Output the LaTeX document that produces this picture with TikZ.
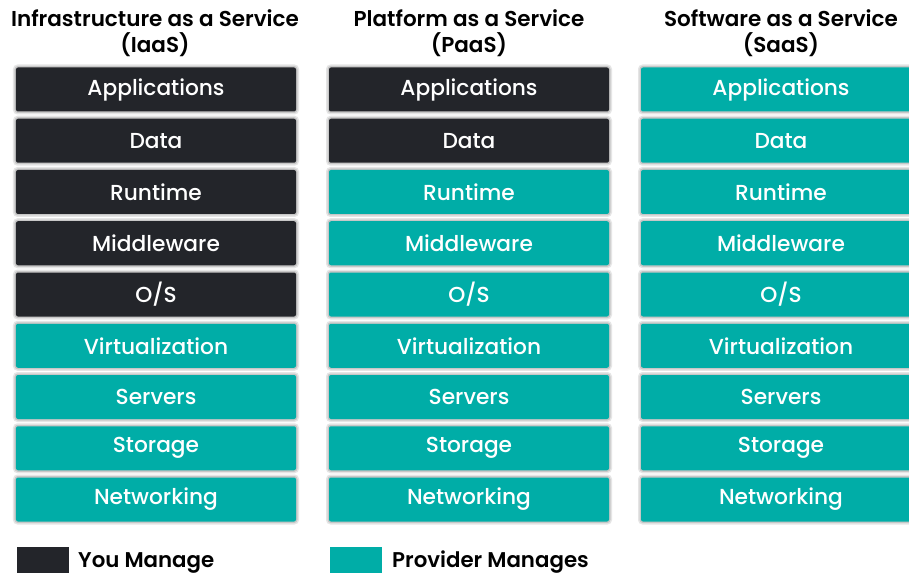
\documentclass[tikz,border=0pt]{standalone}
\usepackage{fontspec}
\setmainfont{Poppins}
\newfontfamily\boxfont{Poppins Medium}
\newfontfamily\headfont{Poppins SemiBold}
\definecolor{youc}{RGB}{35,37,42}
\definecolor{provc}{RGB}{0,173,167}
\tikzset{
  layer/.style={minimum width=280bp, minimum height=44bp, rounded corners=2bp,
    text=white, inner sep=0pt, font=\boxfont\fontsize{21.8}{26}\selectfont,
    preaction={draw=black!10, line width=6bp},
    preaction={draw=black!22, line width=3bp}},
  you/.style={layer, fill=youc},
  prov/.style={layer, fill=provc},
  title/.style={anchor=base, inner sep=0pt, font=\headfont\fontsize{21.6}{26}\selectfont},
  legtext/.style={anchor=base west, inner sep=0pt, font=\headfont\fontsize{21.4}{26}\selectfont},
  legbox/.style={anchor=north west, minimum width=52bp, minimum height=30bp, inner sep=0pt}
}
\begin{document}
\begin{tikzpicture}[x=1bp,y=-1bp]
\clip (0,0) rectangle (909,573);
\fill[white] (0,0) rectangle (909,573);
\node[title] (t1a) at (155,27) {Infrastructure as a Service};
\node[title] (t1b) at (155,53) {(IaaS)};
\node[title] (t2a) at (469,27) {Platform as a Service};
\node[title] (t2b) at (469,53) {(PaaS)};
\node[title] (t3a) at (781,27) {Software as a Service};
\node[title] (t3b) at (781,53) {(SaaS)};
\foreach \lab/\sa/\sb [count=\i from 0] in {
  Applications/you/you, Data/you/you, Runtime/you/prov, Middleware/you/prov,
  {O/S}/you/prov, Virtualization/prov/prov, Servers/prov/prov,
  Storage/prov/prov, Networking/prov/prov}{
  \pgfmathsetmacro\yy{89.5+51.25*\i}
  \node[\sa] (a\i) at (156,\yy) {\lab};
  \node[\sb] (b\i) at (469,\yy) {\lab};
  \node[prov] (c\i) at (781,\yy) {\lab};
}
\node[legbox, fill=youc] (ly) at (17,547) {};
\node[legtext] (lyt) at (78,567) {You Manage};
\node[legbox, fill=provc] (lp) at (330,547) {};
\node[legtext] (lpt) at (392,567) {Provider Manages};
\end{tikzpicture}
\end{document}
